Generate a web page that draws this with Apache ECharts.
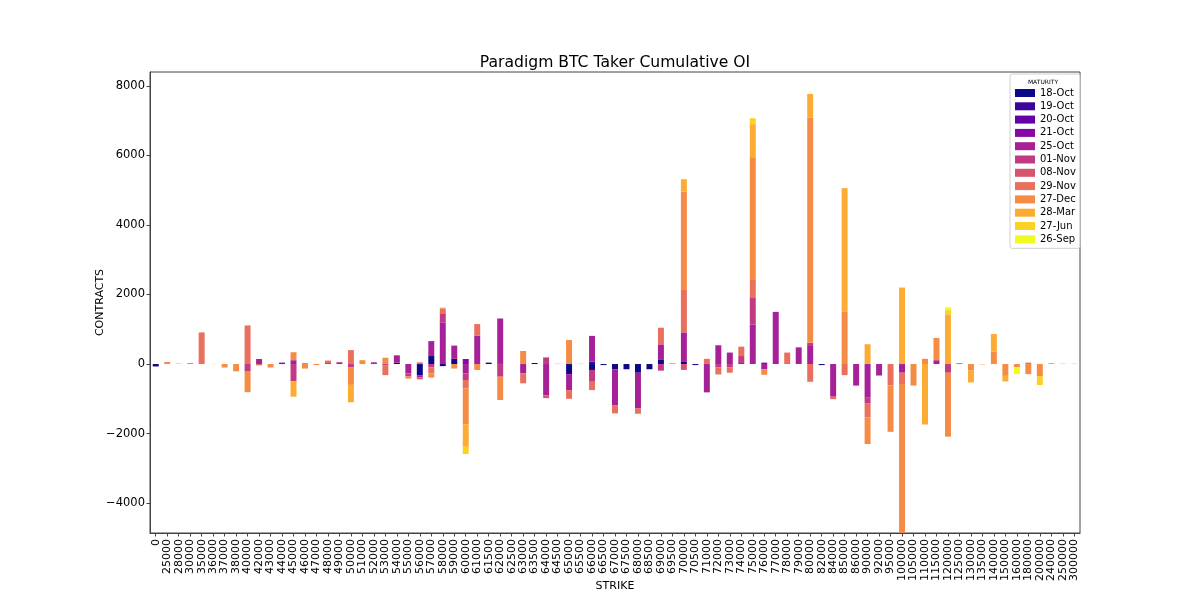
<!DOCTYPE html>
<html>
<head>
<meta charset="utf-8">
<script src="https://cdn.jsdelivr.net/npm/echarts@6/dist/echarts.min.js"></script>
<style>html,body{margin:0;padding:0;background:#fff;}#chart{width:1200px;height:600px;}</style>
</head>
<body>
<div id="chart"></div>
<script>
const strikes = ['0','25000','28000','30000','35000','36000','37000','38000','40000','42000',
'43000','44000','45000','46000','47000','48000','49000','50000','51000','52000',
'53000','54000','55000','56000','57000','58000','59000','60000','61000','61500',
'62000','62500','63000','63500','64000','64500','65000','65500','66000','66500',
'67000','67500','68000','68500','69000','69500','70000','70500','71000','72000',
'73000','74000','75000','76000','77000','78000','79000','80000','82000','84000',
'85000','86000','90000','92000','95000','100000','105000','110000','115000','120000',
'125000','130000','135000','140000','150000','160000','180000','200000','240000','250000',
'300000'];

const maturities = ['18-Oct','19-Oct','20-Oct','21-Oct','25-Oct','01-Nov','08-Nov','29-Nov','27-Dec','28-Mar','27-Jun','26-Sep'];
const yTicks = [-4000,-2000,0,2000,4000,6000,8000];

const oct18 = [-70,0,0,0,0,0,0,0,0,0, 0,0,0,0,0,0,0,0,0,20, 0,40,0,-320,230,-60,150,0,0,40,
  20,0,0,30,0,0,-290,0,-170,-30, -150,-150,-250,-150,135,10,60,-30,0,0, 0,0,0,0,0,0,0,0,-30,0,
  0,0,0,0,0,0,0,0,0,0, 0,0,0,0,0,0,0,0,0,0, 0];
const oct19 = [0,0,0,0,0,0,0,0,0,0, 0,0,0,0,0,0,0,0,0,0, 0,0,0,0,0,0,0,0,0,0,
  0,0,0,0,0,0,0,0,70,0, 0,0,0,0,0,0,0,0,0,0, 0,0,0,0,0,0,0,0,0,0,
  0,0,0,0,0,0,0,0,0,0, 0,0,0,0,0,0,0,0,0,0, 0];
const oct20 = [0,0,0,0,0,0,0,0,0,0, 0,0,0,0,0,0,0,0,0,0, 0,0,0,0,0,0,0,0,0,0,
  0,0,0,0,0,0,0,0,0,0, 0,0,0,0,0,0,0,0,0,0, 0,0,0,0,0,0,0,0,0,0,
  0,0,0,0,0,0,0,0,0,0, 0,0,0,0,0,0,0,0,0,0, 0];
const oct21 = [0,0,0,0,0,0,0,0,0,0, 0,40,0,0,0,0,0,0,0,0, 0,0,0,0,0,0,0,145,0,0,
  0,0,0,0,0,0,0,0,0,0, 0,0,0,0,0,0,0,0,0,0, 0,0,0,40,0,0,0,0,0,0,
  0,0,0,0,0,0,0,0,0,0, 0,0,0,0,0,0,0,0,0,0, 0];
const oct25 = [0,0,0,0,0,0,0,0,0,145, 0,0,110,0,0,0,50,0,0,30, 0,210,-270,-70,430,1200,380,-270,820,0,
  1290,0,-270,0,-900,0,-460,0,740,0, -1030,0,-1030,0,430,0,850,0,-815,540, 330,30,1140,-150,1500,20,480,520,0,-940,
  0,-620,-970,-330,0,-250,0,0,110,0, 0,0,0,0,0,0,0,0,0,0, 0];
const nov01 = [0,0,0,0,0,0,0,0,-200,0, 0,0,-490,20,0,30,0,-100,0,0, -30,0,-90,0,-100,260,0,-190,0,0,
  -365,0,0,0,190,0,0,0,-340,0, 0,0,0,0,-190,0,0,0,0,-100, -100,200,780,0,0,0,0,90,0,0,
  0,0,-170,0,0,0,0,0,0,-250, 0,0,0,0,0,0,0,0,0,0, 0];
const nov08 = [0,0,0,0,0,0,0,0,0,0, 0,0,0,0,0,0,0,0,0,0, 0,0,0,-50,0,0,0,0,0,0,
  0,0,0,0,-80,0,0,0,0,0, 0,0,0,0,0,0,-170,0,0,0, 0,0,0,0,0,0,0,0,0,0,
  0,0,0,0,0,0,0,0,0,0, 0,0,0,0,0,0,0,0,0,0, 0];
const nov29 = [0,0,0,0,910,0,0,0,1110,-40, 0,0,0,0,0,70,10,400,0,0, -290,0,0,50,-170,140,0,-240,330,0,
  0,0,-285,0,0,0,-250,0,-240,0, -240,0,-150,0,480,0,1220,0,150,-200, -150,270,520,0,0,310,0,-510,0,-70,
  -320,0,-400,0,-620,-325,0,0,0,0, 30,0,0,0,0,0,40,0,20,0, 0];
const dec27 = [0,60,0,30,0,0,-100,-210,-610,0, -100,0,230,-130,-30,0,0,-500,110,0, 180,0,-60,0,-120,20,-130,-1030,-170,0,
  -670,0,375,0,0,0,690,0,0,0, 0,0,0,0,0,0,2830,0,0,0, 0,0,3510,-160,0,0,0,6480,0,0,
  1500,0,-760,0,-1330,-4400,-620,150,640,-1840, 0,-190,-10,355,-340,-90,-290,-345,0,0, 0];
const mar28 = [0,0,15,0,0,5,0,0,0,0, 0,0,-450,0,0,0,0,-500,0,0, 0,0,0,0,0,0,0,-650,0,0,
  0,0,0,0,0,10,0,10,0,0, 0,0,0,0,0,0,355,0,0,0, 0,0,950,0,0,0,0,680,0,0,
  3560,0,570,0,0,2200,0,-1740,0,1430, 0,-340,0,510,-160,0,0,0,0,10, 10];
const jun27 = [0,0,0,0,0,0,0,0,0,0, 0,0,0,0,0,0,0,0,0,0, 0,0,0,0,0,0,0,-210,0,0,
  0,0,0,0,0,0,0,0,0,0, 0,0,0,0,0,0,0,0,0,0, 0,0,170,0,0,0,0,0,0,0,
  0,0,0,0,0,0,0,0,0,120, 0,0,0,0,0,0,0,-260,0,0, 0];
const sep26 = [0,0,0,0,0,0,0,0,0,0, 0,0,0,0,0,0,0,0,0,0, 0,0,0,0,0,0,0,0,0,0,
  0,0,0,0,0,0,0,0,0,0, 0,0,0,0,0,0,0,0,0,0, 0,0,0,0,0,0,0,0,0,0,
  0,0,0,0,0,0,0,0,0,80, 0,0,0,0,0,-200,0,0,0,0, 0];

const seriesData = [oct18, oct19, oct20, oct21, oct25, nov01, nov08, nov29, dec27, mar28, jun27, sep26];
const colors = ['#0d0887','#3c049b','#6300a7','#8606a6','#a62098','#c13b82','#d6556d','#e8705c','#f58c46','#fdac33','#fbd124','#f0f921'];

const FONT = 'DejaVu Sans';
const chart = echarts.init(document.getElementById('chart'), null, {renderer: 'canvas'});
chart.setOption({
  animation: false,
  backgroundColor: '#fff',
  grid: {left: 150, right: 120, top: 72, bottom: 67, show: true, borderColor: '#444', borderWidth: 1,
    backgroundColor: 'transparent', containLabel: false, outerBoundsMode: 'none'},
  legend: {
    data: maturities,
    orient: 'vertical',
    left: 1010, top: 74,
    padding: [14, 4, 4, 5],
    itemWidth: 20, itemHeight: 8, itemGap: 3.3,
    backgroundColor: '#fff', borderColor: '#d0d0d0', borderWidth: 1, borderRadius: 2,
    icon: 'rect',
    textStyle: {fontFamily: FONT, fontSize: 10, color: '#000', lineHeight: 10, padding: [0,0,0,0]}
  },
  graphic: [
    {type: 'text', z: 100, style: {text: 'Paradigm BTC Taker Cumulative OI', x: 615, y: 63, textAlign: 'center', textVerticalAlign: 'middle', font: '15.6px "DejaVu Sans"', fill: '#000'}},
    {type: 'text', z: 100, style: {text: 'MATURITY', x: 1043, y: 82, textAlign: 'center', textVerticalAlign: 'middle', font: '6px "DejaVu Sans"', fill: '#000'}}
  ],
  xAxis: {
    type: 'category',
    data: strikes,
    name: 'STRIKE', nameLocation: 'middle', nameGap: 48, nameMoveOverlap: false,
    nameTextStyle: {fontFamily: FONT, fontSize: 11, color: '#000'},
    axisLine: {show: true, onZero: false, lineStyle: {color: '#444'}},
    axisTick: {show: true, alignWithLabel: true, interval: 0, length: 3.5, lineStyle: {color: '#444'}},
    axisLabel: {interval: 0, rotate: 90, fontFamily: FONT, fontSize: 11, color: '#000', margin: 6},
    splitLine: {show: false}
  },
  yAxis: {
    type: 'value',
    min: -4860, max: 8400,
    name: 'CONTRACTS', nameLocation: 'middle', nameGap: 44, nameRotate: 90, nameMoveOverlap: false,
    nameTextStyle: {fontFamily: FONT, fontSize: 11, color: '#000'},
    axisLine: {show: true, lineStyle: {color: '#444'}},
    axisTick: {show: true, length: 3.5, customValues: yTicks, lineStyle: {color: '#444'}},
    axisLabel: {customValues: yTicks, fontFamily: FONT, fontSize: 11.5, color: '#000', margin: 5,
      formatter: v => v < 0 ? '\u2212' + Math.abs(v) : String(v)},
    splitLine: {show: false}
  },
  series: maturities.map((m, k) => ({
    name: m,
    type: 'bar',
    stack: 'oi',
    barWidth: '52%',
    data: seriesData[k],
    itemStyle: {color: colors[k]},
    emphasis: {disabled: true}
  }))
});
</script>
</body>
</html>
